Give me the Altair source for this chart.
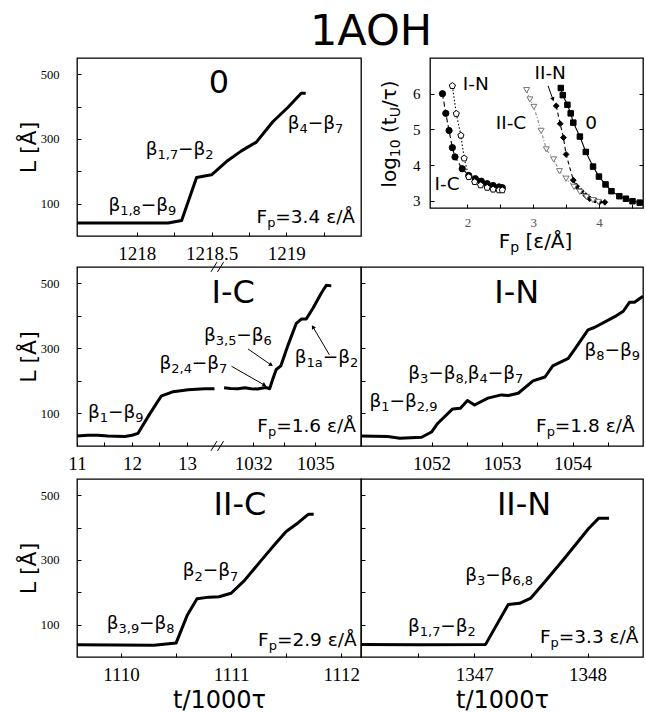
import altair as alt
import pandas as pd

# ---------------- values ----------------
# panel "0"  (F_p = 3.4)
p0_t = [1217.6, 1218.21, 1218.30, 1218.40, 1218.50, 1218.60, 1218.70, 1218.80, 1218.91, 1219.01, 1219.10, 1219.13]
p0_L = [40, 40, 48, 181, 189, 230, 263, 290, 353, 397, 441, 441]

# panel "I-C" (F_p = 1.6), two time windows separated by an axis break
ic1_t = [11.0, 11.2, 11.38, 11.56, 11.7, 11.87, 12.0, 12.11, 12.32, 12.53, 12.75, 13.02, 13.32, 13.5]
ic1_L = [31, 33, 33, 31, 30, 29, 33, 39, 98, 153, 167, 173, 176, 176]
ic2_t = [1030.59, 1030.9, 1031.26, 1031.6, 1031.90, 1032.2, 1032.47, 1032.6, 1032.79, 1032.95,
         1033.11, 1033.33, 1033.68, 1034.08, 1034.32, 1034.56, 1034.89, 1035.29, 1035.53, 1035.77]
ic2_L = [179, 177, 176, 179, 176, 175, 178, 180, 176, 207, 235, 246, 310, 377, 390, 390, 424, 470, 494, 492]

# panel "I-N" (F_p = 1.8)
in_t = [1051.0, 1051.38, 1051.55, 1051.86, 1052.0, 1052.09, 1052.30, 1052.41, 1052.51, 1052.61, 1052.80,
        1052.99, 1053.09, 1053.23, 1053.44, 1053.61, 1053.72, 1053.94, 1054.05, 1054.22, 1054.31, 1054.62,
        1054.72, 1054.81, 1054.88, 1055.0]
in_L = [31, 29, 24, 27, 43, 70, 114, 116, 140, 126, 147, 157, 155, 162, 200, 212, 246, 269, 303, 357,
        364, 400, 414, 442, 442, 460]

# panel "II-C" (F_p = 2.9)
iic_t = [1109.6, 1110.3, 1110.5, 1110.6, 1110.69, 1110.8, 1110.89, 1111.0, 1111.12, 1111.27, 1111.4, 1111.5, 1111.61, 1111.7, 1111.75]
iic_L = [38, 36, 43, 128, 180, 185, 186, 197, 236, 297, 349, 388, 415, 441, 441]

# panel "II-N" (F_p = 3.3)
iin_t = [1346.0, 1346.5, 1347.1, 1347.3, 1347.4, 1347.5, 1347.62, 1347.79, 1347.91, 1348.01, 1348.1, 1348.19]
iin_L = [39, 38, 39, 162, 166, 182, 231, 302, 354, 397, 429, 429]

# inset: log10(t_U / tau) against F_p
ins_series = ["0", "II-N", "II-C", "I-C", "I-N"]
ins_0_F = [3.42, 3.45, 3.52, 3.57, 3.61, 3.71, 3.80, 3.91, 4.00, 4.10, 4.19, 4.31, 4.41, 4.51, 4.62]
ins_0_v = [6.16, 5.96, 5.69, 5.45, 5.19, 4.80, 4.37, 3.96, 3.68, 3.46, 3.27, 3.13, 3.06, 2.99, 2.95]
ins_iin_F = [3.35, 3.41, 3.46, 3.50, 3.61, 3.66, 3.73, 3.80, 3.86, 3.94, 4.01, 4.09]
ins_iin_v = [5.66, 5.16, 4.77, 4.30, 3.58, 3.41, 3.27, 3.15, 3.06, 3.02, 2.97, 2.96]
ins_iic_F = [2.90, 2.95, 3.01, 3.12, 3.20, 3.31, 3.40, 3.50, 3.62, 3.71, 3.81, 3.91, 3.99]
ins_iic_v = [6.10, 5.84, 5.63, 4.96, 4.44, 4.16, 3.83, 3.62, 3.39, 3.25, 3.11, 3.02, 2.97]
ins_ic_F = [1.62, 1.67, 1.72, 1.77, 1.81, 1.92, 2.02, 2.12, 2.21, 2.30, 2.39, 2.48, 2.53]
ins_ic_v = [6.00, 5.45, 4.97, 4.49, 4.23, 3.90, 3.71, 3.62, 3.55, 3.48, 3.43, 3.39, 3.37]
ins_in_F = [1.77, 1.83, 1.90, 1.95, 2.02, 2.11, 2.20, 2.30, 2.39, 2.48, 2.53]
ins_in_v = [6.22, 5.44, 4.83, 4.19, 3.67, 3.53, 3.44, 3.37, 3.32, 3.30, 3.30]

# ---------------- styling / layout ----------------
FONT = "DejaVu Sans"
SERIF = "Liberation Serif"
W_L, W_R, W_INS = 284, 282, 213
H1, H_INS, H2, H3 = 178, 150, 179, 178
YDOM = [0, 550]

# axis break of the I-C panel (display coordinate u)
BREAK_U, T2_START, K = 13.55, 1030.26, 0.3764


def to_u(t):
    return t if t < 100 else BREAK_U + (t - T2_START) * K


# approximate advance widths (em) of DejaVu Sans
CW = {'β': 0.637, '−': 0.838, ',': 0.318, '.': 0.318, ' ': 0.318, '=': 0.838, 'a': 0.613,
      'F': 0.575, 'p': 0.635, 'ε': 0.541, '/': 0.337, 'Å': 0.684, 'I': 0.295, '-': 0.361,
      'C': 0.698, 'N': 0.748, 'l': 0.278, 'o': 0.612, 'g': 0.635, '(': 0.390, ')': 0.390,
      't': 0.392, 'U': 0.732, 'τ': 0.559, '[': 0.390, ']': 0.390, 'L': 0.557}
for d in "0123456789":
    CW[d] = 0.636


def parts_of(s):
    out, buf, i = [], "", 0
    while i < len(s):
        if s[i] == "_" and i + 1 < len(s) and s[i + 1] == "{":
            if buf:
                out.append((buf, False))
                buf = ""
            j = s.index("}", i)
            out.append((s[i + 2:j], True))
            i = j + 1
        else:
            buf += s[i]
            i += 1
    if buf:
        out.append((buf, False))
    return out


def rich(x, y, s, ppu, size=18.5, align="left", rotate=False):
    """Split a label with subscripts into pieces placed one after another."""
    sub = round(size * 0.7, 1)
    rows, cur = [], 0.0
    for txt, is_sub in parts_of(s):
        fs = sub if is_sub else size
        lead = len(txt) - len(txt.lstrip(" "))
        cur += lead * CW[" "] * fs
        core = txt.strip(" ")
        rows.append((core, is_sub, cur))
        cur += sum(CW.get(c, 0.6) for c in core) * fs
    shift = -cur if align == "right" else (-cur / 2 if align == "center" else 0.0)
    recs = []
    for core, is_sub, off in rows:
        off += shift
        if rotate:
            recs.append(dict(x=x, y=y + off / ppu[1], text=core, sub=is_sub, size=size, rot=True))
        else:
            recs.append(dict(x=x + off / ppu[0], y=y, text=core, sub=is_sub, size=size, rot=False))
    return recs


def pos(y_axis_none):
    if y_axis_none:
        return dict(x="x:Q", y=alt.Y("y:Q", axis=None))
    return dict(x="x:Q", y="y:Q")


def rich_layers(recs, ynone=False):
    df = pd.DataFrame(recs)
    layers = []
    for (size, sub, rot), g in df.groupby(["size", "sub", "rot"]):
        kw = dict(align="left", baseline="alphabetic", font=FONT, color="black",
                  fontSize=round(size * 0.7, 1) if sub else size)
        if sub:
            kw["dy"] = round(size * 0.22, 1)
        if rot:
            kw["angle"] = 270
        layers.append(alt.Chart(g[["x", "y", "text"]]).mark_text(**kw).encode(
            text="text:N", **pos(ynone)))
    return layers


def big_label(x, y, s, size=32):
    return alt.Chart(pd.DataFrame([dict(x=x, y=y, text=s)])).mark_text(
        font=FONT, fontSize=size, align="center", baseline="middle", color="black"
    ).encode(text="text:N", **pos(False))


def arrows(rows, ynone=False):
    df = pd.DataFrame(rows, columns=["x", "y", "xe", "ye", "ang"])
    rule = alt.Chart(df).mark_rule(color="black", strokeWidth=1).encode(
        x2="xe:Q", y2="ye:Q", **pos(ynone))
    head_pos = dict(x="xe:Q", y=alt.Y("ye:Q", axis=None) if ynone else "ye:Q")
    head = alt.Chart(df).mark_point(shape="triangle-up", filled=True, size=22, color="black", opacity=1).encode(
        angle=alt.Angle("ang:Q", scale=None), **head_pos)
    return [rule, head]


def int_labels():
    return "datum.value % 1 == 0 ? format(datum.value, 'd') : ''"


def x_axis(values, expr, title=None):
    kw = dict(values=values, labelExpr=expr, tickSize=4, offset=-4, domain=False, grid=False,
              labelFont=SERIF, labelFontSize=19, labelPadding=8, labelColor="black",
              tickColor="black", labelOverlap=False, labelFlush=False)
    if title:
        kw.update(title=title, titleFont=FONT, titleFontSize=24, titleFontWeight="normal",
                  titlePadding=4, titleColor="black")
    else:
        kw["title"] = None
    return alt.Axis(**kw)


def y_axis(with_labels):
    kw = dict(values=[100, 200, 300, 400, 500], tickSize=4, offset=-4, domain=False, grid=False,
              tickColor="black")
    if with_labels:
        kw.update(labelExpr="datum.value % 200 == 100 ? format(datum.value, 'd') : ''",
                  labelFont=SERIF, labelFontSize=12.5, labelPadding=18, labelColor="black",
                  labelOverlap=False, labelFlush=False, title="L [Å]", titleFont=FONT,
                  titleFontSize=22, titleFontWeight="normal", titlePadding=0, titleColor="black")
    else:
        kw.update(labels=False, title=None)
    return alt.Axis(**kw)


def panel(df, xdom, xaxis, yaxis, w, h, extra, seg=False):
    base = alt.Chart(df).mark_line(color="black", strokeWidth=3, strokeJoin="round").encode(
        x=alt.X("x:Q", scale=alt.Scale(domain=xdom, nice=False, zero=False), axis=xaxis),
        y=alt.Y("y:Q", scale=alt.Scale(domain=YDOM, nice=False, zero=False), axis=yaxis),
    )
    if seg:
        base = base.encode(detail="seg:N")
    return alt.layer(base, *extra).properties(width=w, height=h)


def ppu(xdom, w, ydom, h):
    return (w / (xdom[1] - xdom[0]), h / (ydom[1] - ydom[0]))


# ---------------- panel 0 ----------------
X0 = [1217.6, 1219.5]
u0 = ppu(X0, W_L, YDOM, H1)
df0 = pd.DataFrame({"x": p0_t, "y": p0_L})
txt0 = (rich(1217.81, 78, "β_{1,8}−β_{9}", u0) + rich(1218.06, 250, "β_{1,7}−β_{2}", u0)
        + rich(1219.01, 330, "β_{4}−β_{7}", u0) + rich(1219.46, 41, "F_{p}=3.4 ε/Å", u0, align="right"))
panel0 = panel(df0, X0,
               x_axis([1218, 1218.25, 1218.5, 1218.75, 1219, 1219.25],
                      "datum.value == 1218.5 ? '1218.5' : (datum.value % 1 == 0 ? format(datum.value, 'd') : '')"),
               y_axis(True), W_L, H1,
               [big_label(1218.55, 473, "0"), *rich_layers(txt0)])

# ---------------- inset ----------------
XI, YI = [1.43, 4.67], [2.8, 7.0]
ui = ppu(XI, W_INS, YI, H_INS)
ins_F = [ins_0_F, ins_iin_F, ins_iic_F, ins_ic_F, ins_in_F]
ins_v = [ins_0_v, ins_iin_v, ins_iic_v, ins_ic_v, ins_in_v]
rows = []
for s, fs, vs in zip(ins_series, ins_F, ins_v):
    for f, v in zip(fs, vs):
        rows.append(dict(x=f, y=v, s=s))
dfi = pd.DataFrame(rows)
PENT = "M0,-1L0.951,-0.309L0.588,0.809L-0.588,0.809L-0.951,-0.309Z"
ins_lines = alt.Chart(dfi).mark_line(strokeWidth=1.1).encode(
    x=alt.X("x:Q", scale=alt.Scale(domain=XI, nice=False, zero=False),
            axis=alt.Axis(values=[2, 2.5, 3, 3.5, 4, 4.5], labelExpr=int_labels(), tickSize=4, offset=-4,
                          domain=False, grid=False, labelFont=SERIF, labelFontSize=13, labelPadding=8,
                          labelColor="#555555", tickColor="black", labelFlush=False, title=None)),
    y=alt.Y("y:Q", scale=alt.Scale(domain=YI, nice=False, zero=False),
            axis=alt.Axis(values=[3, 4, 5, 6], tickSize=4, offset=-4, domain=False, grid=False,
                          labelFont=SERIF, labelFontSize=15, labelPadding=10, labelColor="black",
                          tickColor="black", labelFlush=False, title=None)),
    detail="s:N",
    strokeDash=alt.StrokeDash("s:N", scale=alt.Scale(domain=ins_series,
                              range=[[1, 0], [4, 3], [3, 2, 1, 2], [5, 3], [1.5, 2]]), legend=None),
    color=alt.Color("s:N", scale=alt.Scale(domain=ins_series,
                    range=["black", "black", "#888888", "black", "black"]), legend=None),
)
ins_pts = alt.Chart(dfi).mark_point(filled=True, strokeWidth=1, opacity=1, fillOpacity=1).encode(
    x="x:Q",
    y=alt.Y("y:Q", axis=alt.Axis(orient="right", values=[3, 4, 5, 6], labels=False, tickSize=4, offset=-4,
                                 domain=False, grid=False, tickColor="black", title=None)),
    shape=alt.Shape("s:N", scale=alt.Scale(domain=ins_series,
                    range=["square", "diamond", "triangle-down", "circle", PENT]), legend=None),
    fill=alt.Fill("s:N", scale=alt.Scale(domain=ins_series,
                  range=["black", "black", "white", "black", "white"]), legend=None),
    stroke=alt.Stroke("s:N", scale=alt.Scale(domain=ins_series,
                      range=["black", "black", "#777777", "black", "black"]), legend=None),
    size=alt.Size("s:N", scale=alt.Scale(domain=ins_series, range=[30, 42, 42, 38, 55]), legend=None),
)
ins_txt = (rich(1.93, 6.10, "I-N", ui) + rich(1.50, 3.30, "I-C", ui) + rich(2.43, 5.02, "II-C", ui)
           + rich(3.02, 6.40, "II-N", ui) + rich(3.88, 5.02, "0", ui, align="center")
           + rich(2.476, 1.68, "F_{p} [ε/Å]", ui, size=20)
           + rich(0.91, 3.37, "log_{10} (t_{U}/τ)", ui, size=20, rotate=True))
inset = alt.layer(
    ins_lines, ins_pts, *rich_layers(ins_txt, ynone=True),
    *arrows([(3.226, 6.22, 3.30, 5.84, 159.4)], ynone=True),
).resolve_axis(y="independent").properties(width=W_INS, height=H_INS)

# ---------------- I-C ----------------
XIC = [11.0, 16.164]
uic = ppu(XIC, W_L, YDOM, H2)
dfic = pd.DataFrame({"x": [to_u(t) for t in ic1_t + ic2_t], "y": ic1_L + ic2_L,
                     "seg": ["a"] * len(ic1_t) + ["b"] * len(ic2_t)})
ic_vals = [11, 11.5, 12, 12.5, 13, to_u(1032), to_u(1033.5), to_u(1035)]
ic_major = [(11, "11"), (12, "12"), (13, "13"), (to_u(1032), "1032"), (to_u(1035), "1035")]
ic_expr = "".join(f"abs(datum.value - {u:.4f}) < 0.01 ? '{lab}' : " for u, lab in ic_major) + "''"
brk = []
for cu in (BREAK_U - 0.06, BREAK_U + 0.06):
    for vy in (0, 550):
        brk.append(dict(x=cu - 0.055, y=vy - 15, xe=cu + 0.055, ye=vy + 15))
brk_layer = alt.Chart(pd.DataFrame(brk)).mark_rule(color="black", strokeWidth=1).encode(
    x2="xe:Q", y2="ye:Q", **pos(False))
txtic = (rich(11.2, 85, "β_{1}−β_{9}", uic) + rich(12.50, 237, "β_{2,4}−β_{7}", uic)
         + rich(13.31, 323, "β_{3,5}−β_{6}", uic) + rich(14.96, 255, "β_{1a}−β_{2}", uic)
         + rich(16.07, 42, "F_{p}=1.6 ε/Å", uic, align="right"))
panelIC = panel(dfic, XIC, x_axis(ic_vals, ic_expr), y_axis(True), W_L, H2,
                [big_label(13.84, 470, "I-C"), *rich_layers(txtic), brk_layer,
                 *arrows([(14.11, 298, 14.53, 249, 124.5), (13.81, 245, 14.41, 187, 119.2),
                          (15.59, 280, 15.29, 366, 329.4)])], seg=True)

# ---------------- I-N ----------------
XIN = [1051, 1055]
uin = ppu(XIN, W_R, YDOM, H2)
dfin = pd.DataFrame({"x": in_t, "y": in_L})
txtin = (rich(1051.12, 119, "β_{1}−β_{2,9}", uin) + rich(1051.67, 206, "β_{3}−β_{8,}β_{4}−β_{7}", uin)
         + rich(1054.17, 276, "β_{8}−β_{9}", uin) + rich(1054.88, 42, "F_{p}=1.8 ε/Å", uin, align="right"))
panelIN = panel(dfin, XIN, x_axis([1052, 1052.5, 1053, 1053.5, 1054, 1054.5], int_labels()),
                y_axis(False), W_R, H2, [big_label(1053.21, 470, "I-N"), *rich_layers(txtin)])

# ---------------- II-C ----------------
XIIC = [1109.6, 1112.18]
uiic = ppu(XIIC, W_L, YDOM, H3)
dfiic = pd.DataFrame({"x": iic_t, "y": iic_L})
txtiic = (rich(1109.87, 86.5, "β_{3,9}−β_{8}", uiic) + rich(1110.56, 249, "β_{2}−β_{7}", uiic)
          + rich(1112.14, 35, "F_{p}=2.9 ε/Å", uiic, align="right"))
panelIIC = panel(dfiic, XIIC,
                 x_axis([1110, 1110.5, 1111, 1111.5, 1112], int_labels(), title="t/1000τ"),
                 y_axis(True), W_L, H3, [big_label(1111.08, 470, "II-C"), *rich_layers(txtiic)])

# ---------------- II-N ----------------
XIIN = [1346.0, 1348.49]
uiin = ppu(XIIN, W_R, YDOM, H3)
dfiin = pd.DataFrame({"x": iin_t, "y": iin_L})
txtiin = (rich(1346.415, 78, "β_{1,7}−β_{2}", uiin) + rich(1346.92, 236, "β_{3}−β_{6,8}", uiin)
          + rich(1348.45, 43, "F_{p}=3.3 ε/Å", uiin, align="right"))
panelIIN = panel(dfiin, XIIN,
                 x_axis([1346.5, 1347, 1347.5, 1348], int_labels(), title="t/1000τ"),
                 y_axis(False), W_R, H3, [big_label(1347.44, 470, "II-N"), *rich_layers(txtiin)])

row1 = alt.hconcat(panel0, inset, spacing=69, bounds="flush")
grid = alt.concat(panelIC, panelIN, panelIIC, panelIIN, columns=2, bounds="flush",
                  spacing={"row": 33, "column": 0})

chart = alt.vconcat(row1, grid, spacing=-4).properties(
    title=alt.TitleParams(text="1AOH", font=FONT, fontSize=43, fontWeight="normal", color="black",
                          anchor="start", frame="group", dx=233, offset=3),
    padding={"left": 16, "top": 11, "right": 0, "bottom": 0},
    background="white",
).configure_view(stroke="black", strokeWidth=1.3)

chart.save("out.html", embed_options={"renderer": "svg", "actions": False})
